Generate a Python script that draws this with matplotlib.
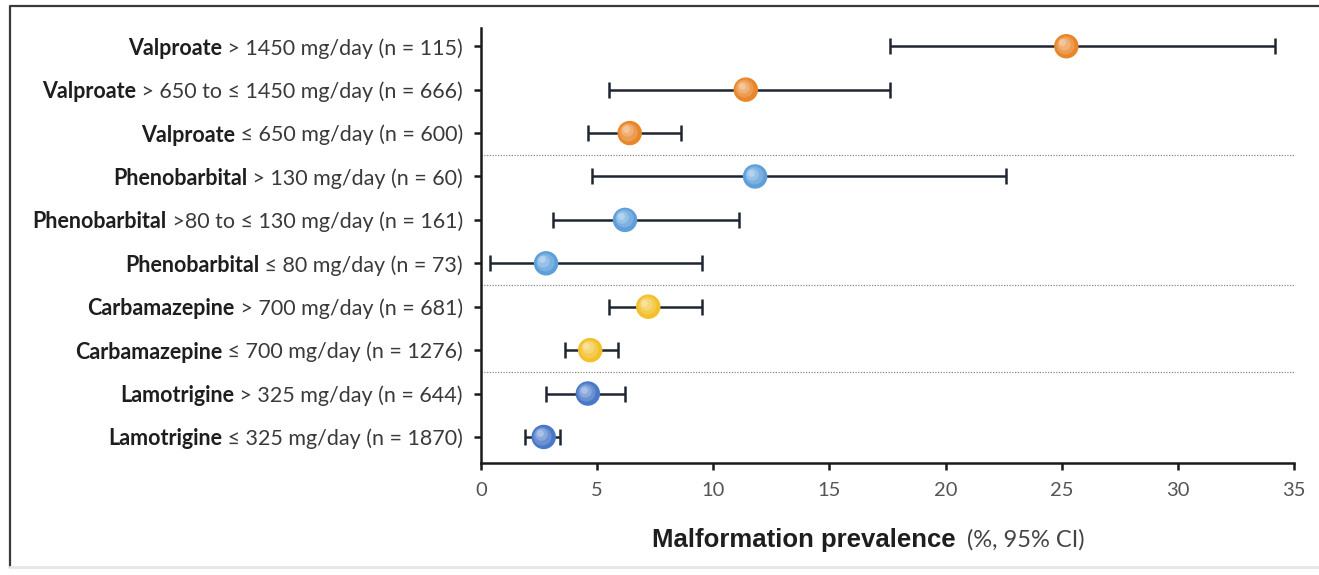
import numpy as np
import matplotlib
matplotlib.use("Agg")
import matplotlib.pyplot as plt
import matplotlib.transforms as mtransforms
from matplotlib.lines import Line2D
from matplotlib.text import Annotation

# ── Data (top row first) ──────────────────────────────────────
drugs = ["Valproate", "Valproate", "Valproate",
         "Phenobarbital", "Phenobarbital", "Phenobarbital",
         "Carbamazepine", "Carbamazepine",
         "Lamotrigine", "Lamotrigine"]
doses = [" > 1450 mg/day (n = 115)",
         " > 650 to \u2264 1450 mg/day (n = 666)",
         " \u2264 650 mg/day (n = 600)",
         " > 130 mg/day (n = 60)",
         " >80 to \u2264 130 mg/day (n = 161)",
         " \u2264 80 mg/day (n = 73)",
         " > 700 mg/day (n = 681)",
         " \u2264 700 mg/day (n = 1276)",
         " > 325 mg/day (n = 644)",
         " \u2264 325 mg/day (n = 1870)"]
prevalence = [25.2, 11.4, 6.4, 11.8, 6.2, 2.8, 7.2, 4.7, 4.6, 2.7]
ci_low = [17.6, 5.5, 4.6, 4.8, 3.1, 0.4, 5.5, 3.6, 2.8, 1.9]
ci_high = [34.2, 17.6, 8.6, 22.6, 11.1, 9.5, 9.5, 5.9, 6.2, 3.4]

drug_colors = {"Valproate": "#E8862A", "Phenobarbital": "#5E9FDA",
               "Carbamazepine": "#F2C029", "Lamotrigine": "#4A78C8"}
group_breaks = [6.5, 3.5, 1.5]

FONT = ["Lato", "DejaVu Sans"]

n = len(drugs)
ypos = np.arange(n)[::-1]
prevalence = np.array(prevalence)
ci_low = np.array(ci_low)
ci_high = np.array(ci_high)

fig = plt.figure(figsize=(13.19, 5.75), dpi=100)
ax = fig.add_axes([481 / 1319, 112 / 575, (1294 - 481) / 1319, (547 - 112) / 575])

# figure frame: dark left/top, faint bottom
fx0, fy0, fy1 = 10 / 1319, 1 - 567 / 575, 1 - 6 / 575
fig.add_artist(Line2D([fx0, fx0, 1.0], [fy0, fy1, fy1], transform=fig.transFigure,
                      color="#3a3a3a", linewidth=1.6))
fig.add_artist(Line2D([fx0, 1.0], [fy0, fy0], transform=fig.transFigure,
                      color="#e6e6e6", linewidth=2.0))

# dotted separators between drugs
for yb in group_breaks:
    ax.axhline(yb, color="#8a8a8a", linestyle=(0, (1, 1.2)), linewidth=0.9, zorder=1)

# confidence intervals
ax.errorbar(prevalence, ypos,
            xerr=[prevalence - ci_low, ci_high - prevalence],
            fmt="none", ecolor="#1f2533", elinewidth=1.8,
            capsize=5.5, capthick=1.8, zorder=2)

# sphere-like markers
cols = [drug_colors[d] for d in drugs]
ax.scatter(prevalence, ypos, s=310, c=cols, zorder=3, linewidths=0)
for k, (sz, a) in enumerate([(170, 0.18), (80, 0.22), (25, 0.28)]):
    off = mtransforms.offset_copy(ax.transData, fig=fig,
                                  x=-1.0 - k * 0.9, y=1.0 + k * 0.9, units="points")
    ax.scatter(prevalence, ypos, s=sz, c="white", alpha=a, zorder=4,
               linewidths=0, transform=off)

ax.set_xlim(0, 35)
ax.set_ylim(-0.6, 9.42)
ax.set_xticks(np.arange(0, 36, 5))
ax.set_yticks(ypos)
ax.set_yticklabels([])
ax.tick_params(axis="both", direction="out", width=1.8, length=5, color="#1a1a1a")
ax.tick_params(axis="x", labelsize=14.5, labelcolor="#555555", pad=9)
for lab in ax.get_xticklabels():
    lab.set_family(FONT)
ax.spines[["top", "right"]].set_visible(False)
for sp in ["left", "bottom"]:
    ax.spines[sp].set_linewidth(1.8)
    ax.spines[sp].set_color("#1a1a1a")

# two-part y labels: bold drug + regular dose
for drug, dose, y in zip(drugs, doses, ypos):
    reg = ax.annotate(dose, xy=(0, y), xycoords=("axes fraction", "data"),
                      xytext=(-13, 0), textcoords="offset points",
                      ha="right", va="center_baseline", fontsize=15.5,
                      color="#3a3a3a", family=FONT)
    ax.annotate(drug, xy=(0, y), xycoords=(reg, "data"),
                xytext=(0, 0), textcoords="offset points",
                ha="right", va="center_baseline", fontsize=15.5,
                fontweight="bold", color="#1e1e1e", family=FONT)

# x label
xl = fig.text(652 / 1319, 1 - 537 / 575, "Malformation prevalence",
              ha="left", va="center_baseline", fontsize=18.5,
              fontweight="bold", color="#1e1e1e", family="Liberation Sans")
unit = Annotation("(%, 95% CI)", xy=(1, 0.5), xycoords=xl,
                  xytext=(8, 0), textcoords="offset points",
                  ha="left", va="center", fontsize=17,
                  color="#444444", family=FONT)
unit.set_figure(fig)
fig.texts.append(unit)

fig.savefig("out.png", dpi=100)
